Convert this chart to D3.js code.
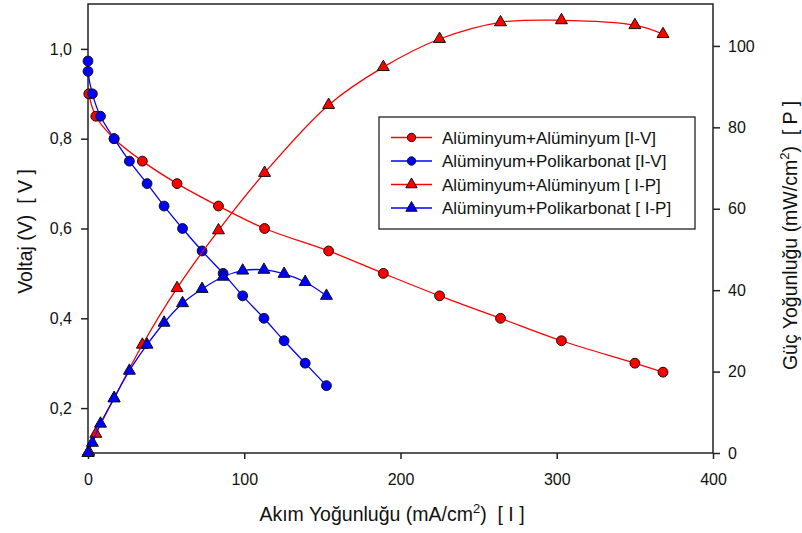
<!DOCTYPE html>
<html>
<head>
<meta charset="utf-8">
<script src="https://cdn.jsdelivr.net/npm/d3@7"></script>
<style>
body { margin: 0; background: #fff; }
svg { font-family: Arial, "Liberation Sans", sans-serif; }
</style>
</head>
<body>
<svg id="chart" width="802" height="533"></svg>
<script>
// Alüminyum+Alüminyum
var akim_al = [0.5, 5, 16.7, 34.8, 57, 83.5, 113, 154, 189, 225, 264, 303, 350, 368];
var volt_al = [0.9, 0.85, 0.8, 0.75, 0.7, 0.65, 0.6, 0.55, 0.5, 0.45, 0.4, 0.35, 0.3, 0.28];
var guc_al = [0.3, 4.7, 13.4, 26.6, 40.5, 54.7, 68.8, 85.5, 94.8, 101.7, 105.8, 106.3, 105.1, 102.9];

// Alüminyum+Polikarbonat
var akim_pc = [0, 0, 2.8, 8, 16.7, 26.5, 37.8, 48.7, 60.5, 73, 86.5, 99, 112.6, 125.5, 139, 152.6];
var volt_pc = [0.973, 0.95, 0.9, 0.85, 0.8, 0.75, 0.7, 0.65, 0.6, 0.55, 0.5, 0.45, 0.4, 0.35, 0.3, 0.25];
var guc_pc = [0, 0, 2.5, 7.2, 13.5, 20.2, 26.6, 32, 36.8, 40.3, 43.3, 44.8, 45, 44, 42, 38.6];

var xTicks = [0, 100, 200, 300, 400];
var yTicks = [0.2, 0.4, 0.6, 0.8, 1.0];
var y2Ticks = [0, 20, 40, 60, 80, 100];

var series = [
	{ name: 'Alüminyum+Alüminyum [I-V]', x: akim_al, y: volt_al, axis: 'left', color: '#ff0000', shape: 'circle' },
	{ name: 'Alüminyum+Polikarbonat [I-V]', x: akim_pc, y: volt_pc, axis: 'left', color: '#0000ff', shape: 'circle' },
	{ name: 'Alüminyum+Alüminyum [ I-P]', x: akim_al, y: guc_al, axis: 'right', color: '#ff0000', shape: 'triangle' },
	{ name: 'Alüminyum+Polikarbonat [ I-P]', x: akim_pc, y: guc_pc, axis: 'right', color: '#0000ff', shape: 'triangle' }
];

var plotL = 88, plotR = 713, plotT = 4, plotB = 453;

var svg = d3.select('#chart');

var xScale = d3.scaleLinear().domain([0, 400]).range([plotL, plotR]);
var yScale = d3.scaleLinear().domain([0.1, 1.1]).range([plotB, plotT]);
var y2Scale = d3.scaleLinear().domain([0, 110.3]).range([plotB, plotT]);

var fmtComma = function (d) { return d3.format('.1f')(d).replace('.', ','); };

// frame
svg.append('rect')
	.attr('x', plotL).attr('y', plotT)
	.attr('width', plotR - plotL).attr('height', plotB - plotT)
	.style('fill', 'none').style('stroke', '#222').style('stroke-width', 1.5);

function styleAxis (g) {
	g.selectAll('path').remove();
	g.selectAll('line').style('stroke', '#222').style('stroke-width', 1.5);
	g.selectAll('text').style('font-size', '16px').style('fill', '#111');
}

svg.append('g')
	.attr('transform', 'translate(0,' + plotB + ')')
	.call(d3.axisBottom(xScale).tickValues(xTicks).tickSize(6).tickPadding(14.5))
	.call(styleAxis);

svg.append('g')
	.attr('transform', 'translate(' + plotL + ',0)')
	.call(d3.axisLeft(yScale).tickValues(yTicks).tickFormat(fmtComma).tickSize(7).tickPadding(9))
	.call(styleAxis);

svg.append('g')
	.attr('transform', 'translate(' + plotR + ',0)')
	.call(d3.axisRight(y2Scale).tickValues(y2Ticks).tickSize(7).tickPadding(8))
	.call(styleAxis);

// axis titles
var xt = svg.append('text')
	.attr('x', 392).attr('y', 521)
	.attr('text-anchor', 'middle')
	.style('font-size', '19.5px').style('white-space', 'pre').style('fill', '#111');
xt.append('tspan').text('Akım Yoğunluğu (mA/cm');
xt.append('tspan').attr('dy', -8).style('font-size', '13px').text('2');
xt.append('tspan').attr('dy', 8).text(')  [ I ]');

svg.append('text')
	.attr('transform', 'translate(32,231.5) rotate(-90)')
	.attr('text-anchor', 'middle')
	.style('font-size', '19.5px').style('white-space', 'pre').style('fill', '#111')
	.text('Voltaj (V)  [ V ]');

var yt = svg.append('text')
	.attr('transform', 'translate(797,235.5) rotate(-90)')
	.attr('text-anchor', 'middle')
	.style('font-size', '19.5px').style('white-space', 'pre').style('fill', '#111');
yt.append('tspan').text('Güç Yoğunluğu (mW/cm');
yt.append('tspan').attr('dy', -8).style('font-size', '13px').text('2');
yt.append('tspan').attr('dy', 8).text(')  [ P ]');

// curves
var circleSym = d3.symbol().type(d3.symbolCircle).size(76);
var triSym = d3.symbol().type(d3.symbolTriangle).size(62);

series.forEach(function (s) {
	var ys = s.axis == 'left' ? yScale : y2Scale;
	var pts = s.x.map(function (v, i) { return [xScale(v), ys(s.y[i])]; });

	svg.append('path')
		.attr('d', d3.line().curve(d3.curveCatmullRom.alpha(0.5))(pts))
		.style('fill', 'none')
		.style('stroke', s.color)
		.style('stroke-width', 1.3);

	svg.append('g').selectAll('path')
		.data(pts)
		.enter()
		.append('path')
		.attr('d', s.shape == 'circle' ? circleSym : triSym)
		.attr('transform', function (p) { return 'translate(' + p[0] + ',' + p[1] + ')'; })
		.style('fill', s.color)
		.style('stroke', '#111')
		.style('stroke-width', 1);
});

// legend
var lg = svg.append('g').attr('transform', 'translate(379,117)');
lg.append('rect')
	.attr('width', 316).attr('height', 112)
	.style('fill', '#fff').style('stroke', '#222').style('stroke-width', 1.3);

var legCircle = d3.symbol().type(d3.symbolCircle).size(55);
var legTri = d3.symbol().type(d3.symbolTriangle).size(55);

series.forEach(function (s, i) {
	var ry = 20.5 + i * 23.5;
	lg.append('line')
		.attr('x1', 12).attr('x2', 53).attr('y1', ry).attr('y2', ry)
		.style('stroke', s.color).style('stroke-width', 1.3);
	lg.append('path')
		.attr('d', s.shape == 'circle' ? legCircle : legTri)
		.attr('transform', 'translate(32.5,' + ry + ')')
		.style('fill', s.color).style('stroke', '#111').style('stroke-width', 1);
	lg.append('text')
		.attr('x', 63).attr('y', ry + 6)
		.style('font-size', '17px').style('fill', '#111')
		.text(s.name);
});
</script>
</body>
</html>
